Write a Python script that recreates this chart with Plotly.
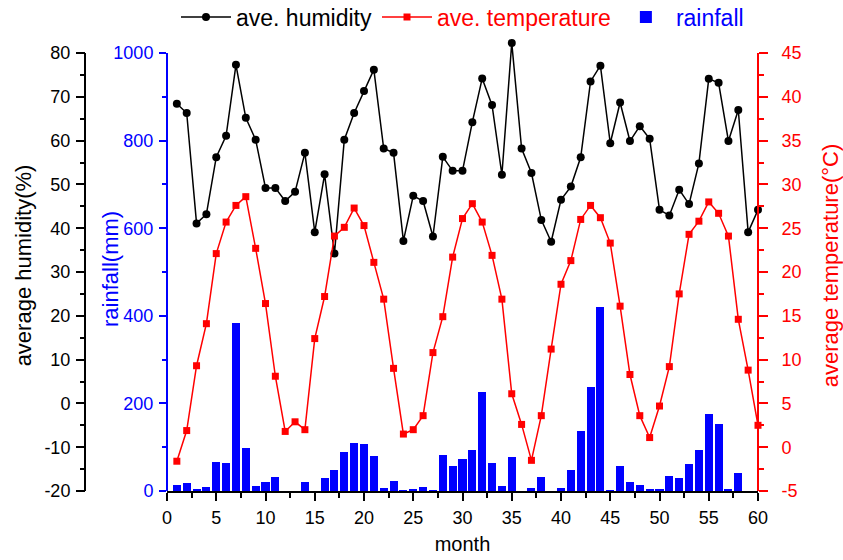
import plotly.graph_objects as go

months = list(range(1, 61))
humidity = [68.4, 66.3, 41.1, 43.2, 56.2, 61.1, 77.3, 65.2, 60.2, 49.2,
            49.2, 46.2, 48.3, 57.2, 39.1, 52.3, 34.2, 60.2, 66.3, 71.3,
            76.2, 58.2, 57.2, 37.1, 47.4, 46.2, 38.1, 56.3, 53.1, 53.1,
            64.2, 74.2, 68.1, 52.2, 82.3, 58.2, 52.6, 41.9, 36.9, 46.5,
            49.5, 56.2, 73.5, 77.1, 59.4, 68.7, 59.9, 63.3, 60.4, 44.2,
            42.9, 48.8, 45.5, 54.8, 74.1, 73.2, 59.9, 67.0, 39.1, 44.2]
temperature = [-1.6, 1.9, 9.3, 14.1, 22.1, 25.7, 27.6, 28.6, 22.7, 16.4,
               8.1, 1.8, 2.9, 2.0, 12.4, 17.2, 24.1, 25.1, 27.3, 25.3,
               21.1, 16.9, 9.0, 1.5, 2.0, 3.6, 10.8, 14.9, 21.7, 26.1,
               27.8, 25.7, 21.9, 16.9, 6.1, 2.6, -1.5, 3.6, 11.2, 18.6,
               21.3, 26.0, 27.6, 26.2, 23.3, 16.1, 8.3, 3.6, 1.1, 4.7,
               9.2, 17.5, 24.3, 25.8, 28.0, 26.7, 24.1, 14.6, 8.8, 2.5]
rainfall = [14, 18, 3, 10, 67, 63, 383, 99, 11, 20,
            33, 0, 0, 20, 0, 29, 47, 89, 110, 107,
            79, 8, 22, 1, 4, 9, 1, 82, 57, 72,
            94, 227, 65, 11, 78, 0, 7, 33, 0, 8,
            48, 136, 237, 420, 1, 56, 21, 14, 5, 3,
            35, 30, 62, 93, 175, 154, 5, 42, 0, 0]

x_ticks = list(range(0, 61, 5))
x_minor = [2.5 + 5 * i for i in range(12)]
rain_ticks = list(range(0, 1001, 200))
hum_ticks = list(range(-20, 81, 10))
temp_ticks = list(range(-5, 46, 5))

W, H = 843, 560
ML, MR, MT, MB = 0, 0, 40, 69
PW = W - ML - MR
PH = H - MT - MB
EXT = 13 / 438  # headroom above the top tick so the 35th-month peak is not clipped


def px(x):
    return (x - ML) / PW


def py(y):
    return (H - MB - y) / PH


FONT = "Arial, Liberation Sans, sans-serif"
BLUE = "#0000ff"
RED = "#ff0000"

fig = go.Figure()
fig.add_trace(go.Bar(
    x=months, y=rainfall, name=f"<span style='color:{BLUE}'>rainfall</span>",
    marker=dict(color=BLUE, line=dict(width=0)), width=0.82,
    yaxis="y", legendrank=3))
fig.add_trace(go.Scatter(
    x=months, y=humidity, name="ave. humidity", yaxis="y2",
    mode="lines+markers", line=dict(color="black", width=1.5),
    marker=dict(symbol="circle", size=8, color="black"),
    cliponaxis=False, legendrank=1))
fig.add_trace(go.Scatter(
    x=months, y=temperature, name=f"<span style='color:{RED}'>ave. temperature</span>",
    yaxis="y3", mode="lines+markers", line=dict(color=RED, width=1.5),
    marker=dict(symbol="square", size=7, color=RED),
    cliponaxis=False, legendrank=2))

# axis spines limited to the labelled range
fig.add_shape(type="line", xref="paper", yref="y", x0=px(167), x1=px(167),
              y0=0, y1=1000, line=dict(color=BLUE, width=2))
fig.add_shape(type="line", xref="paper", yref="y2", x0=px(85), x1=px(85),
              y0=-20, y1=80, line=dict(color="black", width=2))
fig.add_shape(type="line", xref="paper", yref="y3", x0=px(758), x1=px(758),
              y0=-5, y1=45, line=dict(color=RED, width=2))

fig.add_annotation(text="rainfall(mm)", textangle=-90, xref="paper", yref="paper",
                   x=px(110), y=py(269), xanchor="center", yanchor="middle",
                   showarrow=False, font=dict(color=BLUE, size=22))

fig.update_layout(
    width=W, height=H,
    margin=dict(l=ML, r=MR, t=MT, b=MB, autoexpand=False),
    paper_bgcolor="white", plot_bgcolor="white",
    font=dict(family=FONT, size=18, color="black"),
    bargap=0,
    showlegend=True,
    legend=dict(orientation="h", x=px(176), xanchor="left",
                y=1 + (MT - 17) / PH, yanchor="middle",
                font=dict(size=23), itemwidth=50, bgcolor="rgba(0,0,0,0)"),
    xaxis=dict(domain=[px(167), px(758)], range=[0, 60],
               tickvals=x_ticks, ticktext=[str(v) for v in x_ticks],
               ticks="outside", ticklen=8, tickwidth=1.5, tickcolor="black",
               minor=dict(tickvals=x_minor, ticks="outside", ticklen=5,
                          tickwidth=1.5, tickcolor="black"),
               showline=True, linecolor="black", linewidth=1.5,
               showgrid=False, zeroline=False, ticklabelstandoff=2,
               title=dict(text="month", font=dict(size=20), standoff=10),
               tickfont=dict(size=18)),
    yaxis=dict(range=[0, 1000 * (1 + EXT)], anchor="x", side="left",
               tickvals=rain_ticks, ticktext=[str(v) for v in rain_ticks],
               ticks="outside", ticklen=7, tickwidth=1.5, tickcolor=BLUE,
               minor=dict(dtick=100, ticks="outside", ticklen=4, tickwidth=1.5,
                          tickcolor=BLUE),
               showline=False, showgrid=False, zeroline=False,
               ticklabelstandoff=2,
               tickfont=dict(color=BLUE, size=18)),
    yaxis2=dict(range=[-20, 80 + 100 * EXT], overlaying="y", anchor="free",
                position=px(85), side="left",
                tickvals=hum_ticks, ticktext=[str(v) for v in hum_ticks],
                ticks="outside", ticklen=9, tickwidth=1.5, tickcolor="black",
                minor=dict(dtick=5, ticks="outside", ticklen=5, tickwidth=1.5,
                           tickcolor="black"),
                showline=False, showgrid=False, zeroline=False,
                ticklabelstandoff=2,
                tickfont=dict(color="black", size=18),
                title=dict(text="average humidity(%)", font=dict(color="black", size=22),
                           standoff=5)),
    yaxis3=dict(range=[-5, 45 + 50 * EXT], overlaying="y", anchor="x", side="right",
                tickvals=temp_ticks, ticktext=[str(v) for v in temp_ticks],
                ticks="outside", ticklen=9, tickwidth=1.5, tickcolor=RED,
                minor=dict(dtick=2.5, ticks="outside", ticklen=5, tickwidth=1.5,
                           tickcolor=RED),
                showline=False, showgrid=False, zeroline=False,
                ticklabelstandoff=10,
                tickfont=dict(color=RED, size=18),
                title=dict(text="average temperature(°C)", font=dict(color=RED, size=22),
                           standoff=26)),
)

fig.write_html("out.html")
